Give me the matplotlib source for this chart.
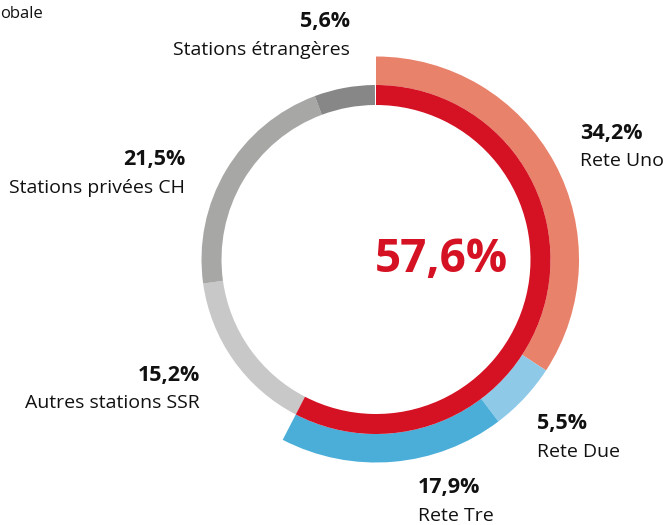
import matplotlib.pyplot as plt
from matplotlib.patches import Wedge

plt.rcParams['font.family'] = ['Open Sans', 'DejaVu Sans']

# shares (%) going clockwise from 12 o'clock
names = ["Rete Uno", "Rete Due", "Rete Tre",
         "Autres stations SSR", "Stations privées CH", "Stations étrangères"]
shares = [34.2, 5.5, 17.9, 15.2, 21.5, 5.6]
pct_labels = ["34,2%", "5,5%", "17,9%", "15,2%", "21,5%", "5,6%"]
colors = ["#e8826b", "#8ecae8", "#4baed9", "#c8c8c8", "#a7a7a6", "#878787"]
is_rsi = [True, True, True, False, False, False]
total_rsi = 57.6
red = "#d51224"

fig = plt.figure(figsize=(6.63, 5.25), dpi=100)
ax = fig.add_axes([0, 0, 1, 1])
ax.set_xlim(0, 663)
ax.set_ylim(525, 0)
ax.axis("off")

cx, cy = 376, 259.5
r_in, r_mid, r_out = 154.5, 174.5, 203

# angles: y axis inverted, so matplotlib angles are measured clockwise on screen
start = 0.0
for name, val, col, rsi in zip(names, shares, colors, is_rsi):
    a1 = -90 + start * 3.6
    a2 = -90 + (start + val) * 3.6
    if rsi:
        ax.add_patch(Wedge((cx, cy), r_out, a1, a2, width=r_out - r_mid,
                           facecolor=col, edgecolor="none"))
    else:
        ax.add_patch(Wedge((cx, cy), r_mid, a1, a2, width=r_mid - r_in,
                           facecolor=col, edgecolor="none"))
    start += val

ax.add_patch(Wedge((cx, cy), r_mid, -90, -90 + total_rsi * 3.6,
                   width=r_mid - r_in, facecolor=red, edgecolor="none"))

ax.text(441, 259, "57,6%", color=red, fontsize=33, fontweight="bold",
        ha="center", va="center")

# label anchors (x, y of percentage, alignment)
label_pos = [(580, 133, "left"), (537, 424, "left"), (418, 488, "left"),
             (200, 375, "right"), (185, 160, "right"), (350, 22, "right")]
for (x, y, ha), p, name in zip(label_pos, pct_labels, names):
    ax.text(x, y, p, fontsize=15.5, fontweight="bold", ha=ha, va="center",
            color="#111111")
    ax.text(x, y + 28, name, fontsize=14, ha=ha, va="center", color="#111111")

ax.text(0, 14, "obale", fontsize=12, ha="left", va="center", color="#111111")

fig.savefig("out.png", dpi=100)
